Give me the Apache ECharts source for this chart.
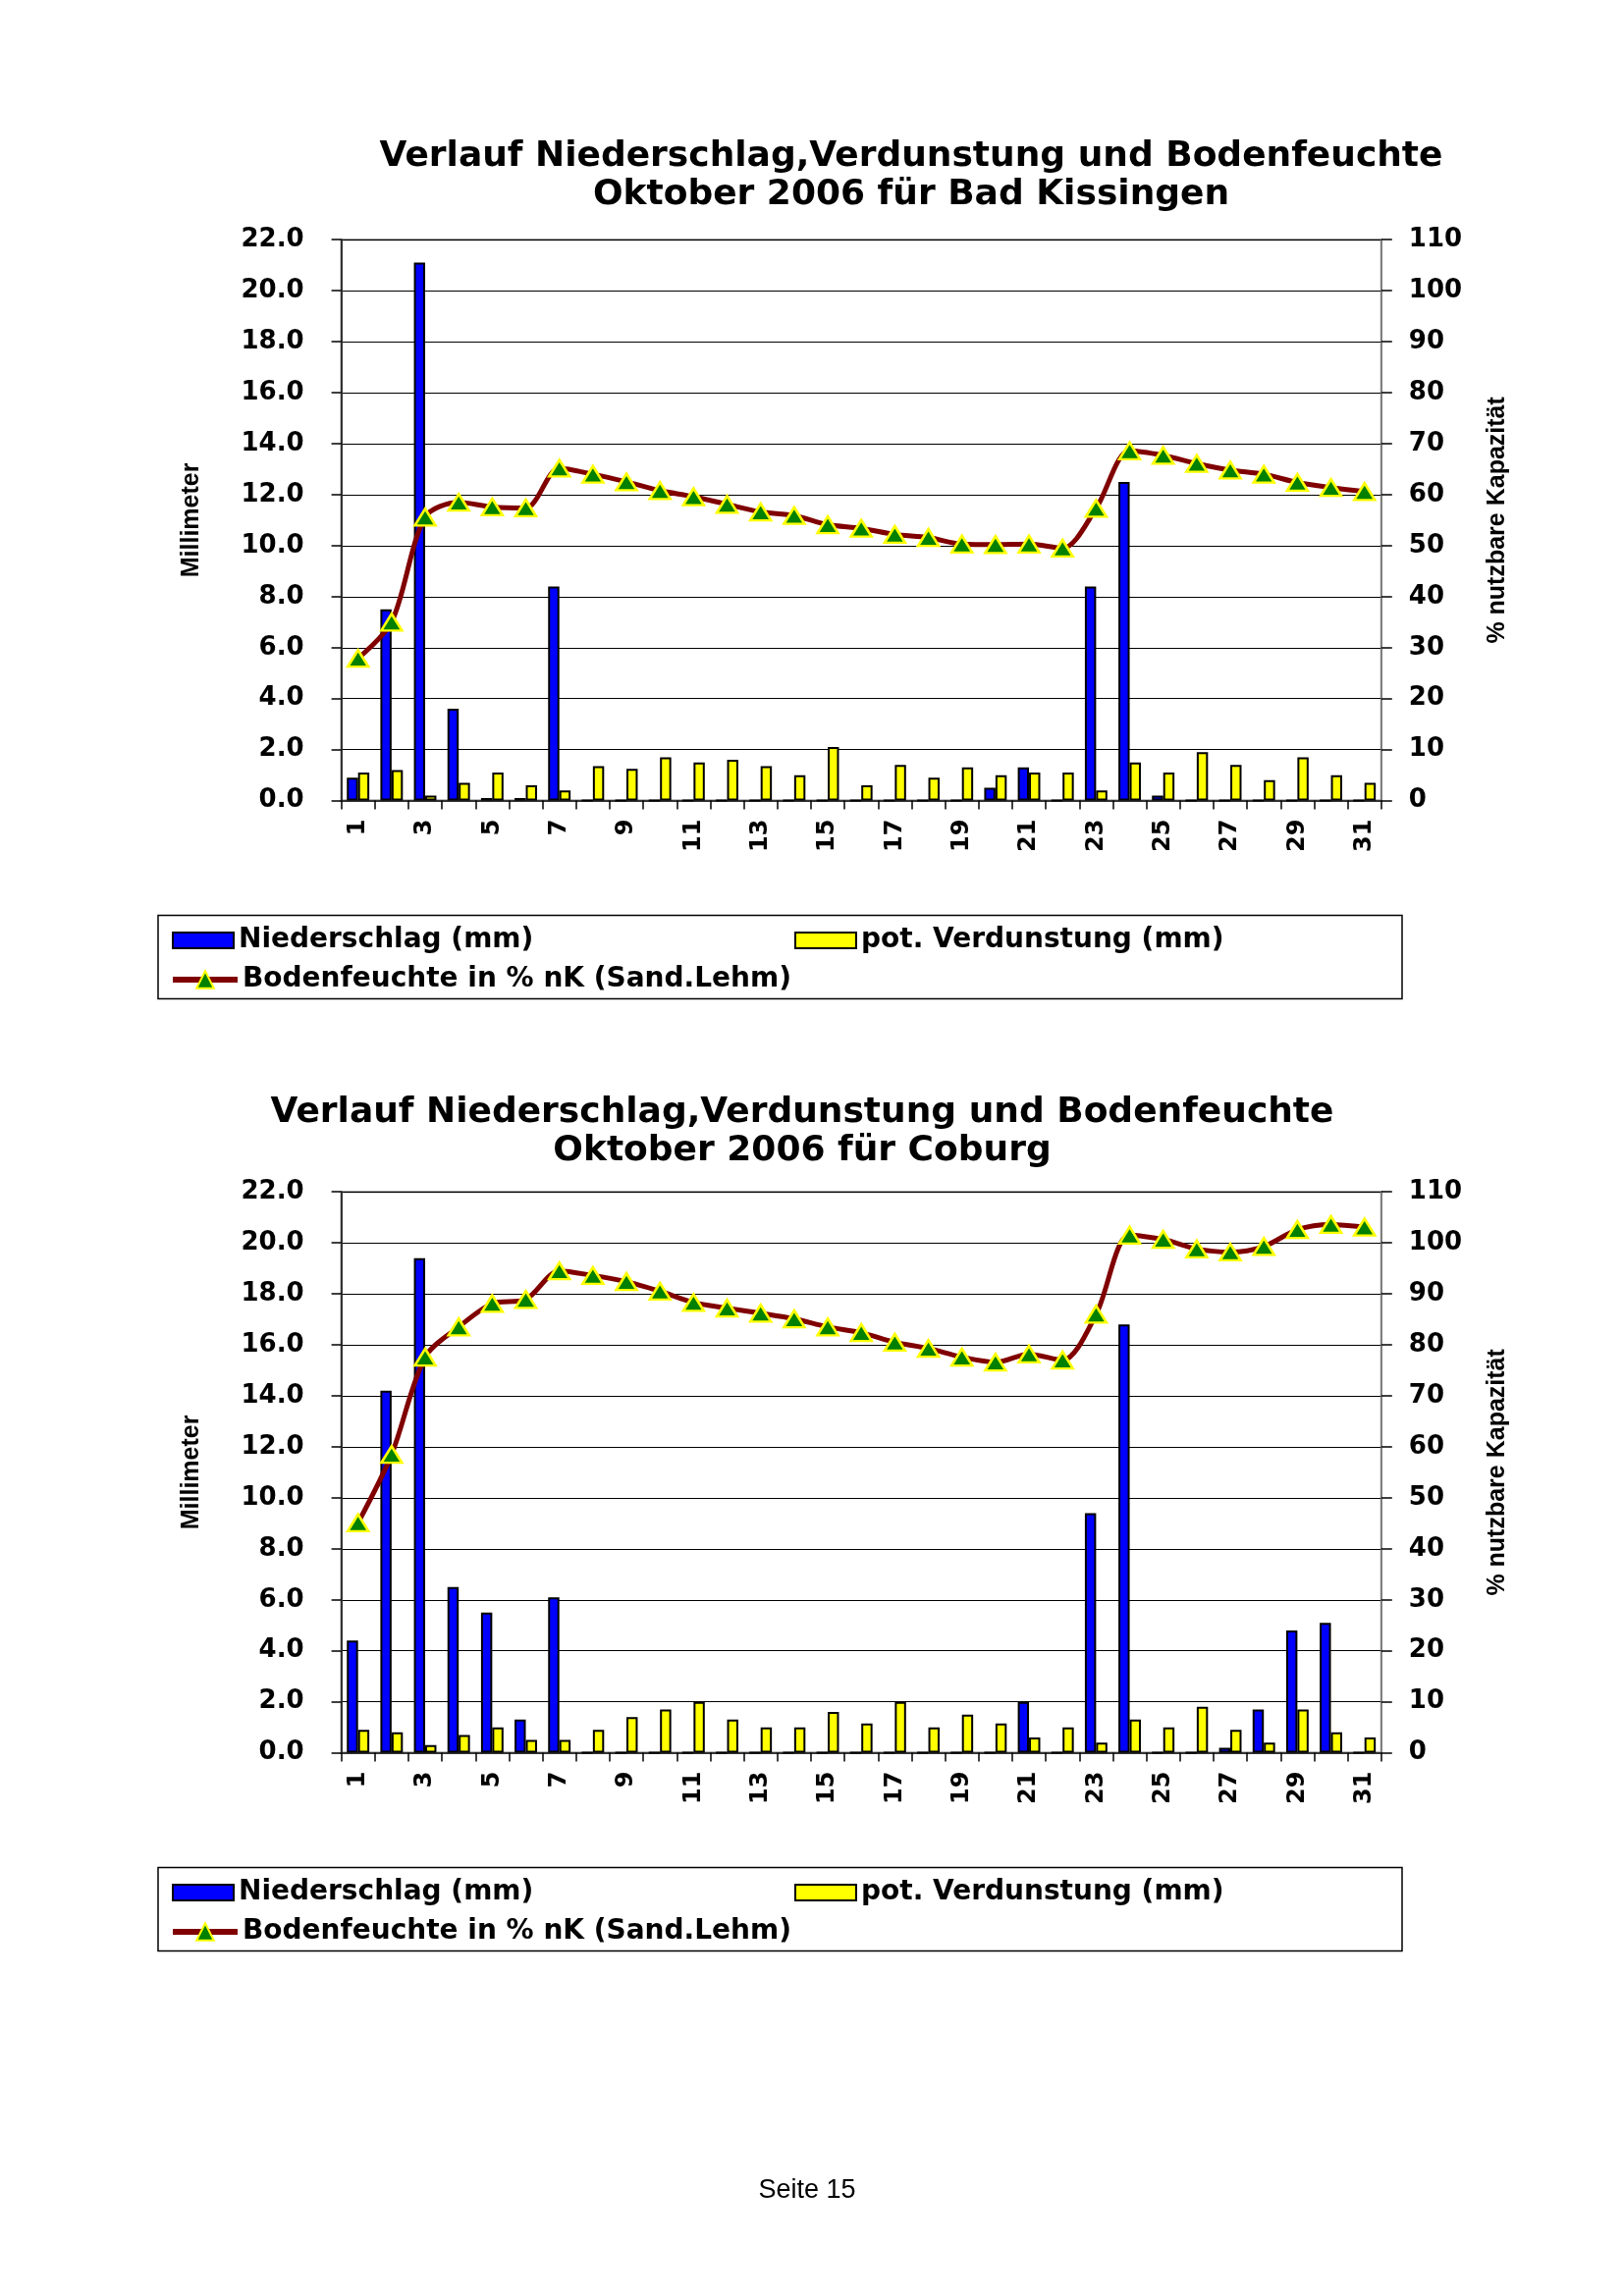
<!DOCTYPE html>
<html><head><meta charset="utf-8">
<script src="https://cdn.jsdelivr.net/npm/echarts@6/dist/echarts.min.js"></script>
<style>html,body{margin:0;padding:0;background:#fff}#c{width:1653px;height:2339px}</style>
</head><body><div id="c"></div>
<script>
// ---- data ----
const days = ['1','2','3','4','5','6','7','8','9','10','11','12','13','14','15','16','17','18','19','20','21','22','23','24','25','26','27','28','29','30','31'];
const leftTicks = { min: 0, max: 22, interval: 2 };
const rightTicks = { min: 0, max: 110, interval: 10 };

const titleKG = 'Verlauf Niederschlag,Verdunstung und Bodenfeuchte\nOktober 2006 für Bad Kissingen';
const titleCO = 'Verlauf Niederschlag,Verdunstung und Bodenfeuchte\nOktober 2006 für Coburg';

const niederschlagKG = [0.9, 7.5, 21.1, 3.6, 0.1, 0.1, 8.4, 0, 0, 0, 0, 0, 0, 0, 0, 0, 0, 0, 0, 0.5, 1.3, 0, 8.4, 12.5, 0.2, 0, 0, 0, 0, 0, 0];
const verdunstungKG = [1.1, 1.2, 0.2, 0.7, 1.1, 0.6, 0.4, 1.35, 1.25, 1.7, 1.5, 1.6, 1.35, 1.0, 2.1, 0.6, 1.4, 0.9, 1.3, 1.0, 1.1, 1.1, 0.4, 1.5, 1.1, 1.9, 1.4, 0.8, 1.7, 1.0, 0.7];
const bodenfeuchteKG = [27.9, 35.0, 55.6, 58.5, 57.6, 57.4, 65.2, 64.0, 62.5, 60.8, 59.6, 58.1, 56.6, 55.9, 54.1, 53.4, 52.2, 51.6, 50.3, 50.2, 50.3, 49.5, 57.3, 68.6, 67.7, 66.1, 64.8, 64.0, 62.4, 61.4, 60.6];

const niederschlagCO = [4.4, 14.2, 19.4, 6.5, 5.5, 1.3, 6.1, 0, 0, 0, 0, 0, 0, 0, 0, 0, 0, 0, 0, 0, 2.0, 0, 9.4, 16.8, 0, 0, 0.2, 1.7, 4.8, 5.1, 0];
const verdunstungCO = [0.9, 0.8, 0.3, 0.7, 1.0, 0.5, 0.5, 0.9, 1.4, 1.7, 2.0, 1.3, 1.0, 1.0, 1.6, 1.15, 2.0, 1.0, 1.5, 1.15, 0.6, 1.0, 0.4, 1.3, 1.0, 1.8, 0.9, 0.4, 1.7, 0.8, 0.6];
const bodenfeuchteCO = [45.1, 58.5, 77.6, 83.5, 88.1, 88.9, 94.5, 93.6, 92.4, 90.5, 88.3, 87.2, 86.2, 85.1, 83.5, 82.4, 80.5, 79.3, 77.6, 76.6, 78.2, 77.0, 86.0, 101.5, 100.7, 98.8, 98.2, 99.3, 102.6, 103.6, 103.1];

const nameN = 'Niederschlag (mm)';
const nameV = 'pot. Verdunstung (mm)';
const nameB = 'Bodenfeuchte in % nK (Sand.Lehm)';
const nameLeftAxis = 'Millimeter';
const nameRightAxis = '% nutzbare Kapazität';
const footer = 'Seite 15';

// ---- layout / style ----
const BOLD = 'DejaVu Sans';
const OFFSET = 970;
const G = { left: 347.6, top: 244.2, width: 1059.2, height: 571.4 };

function xAxisFor(i) {
  return {
    type: 'category', gridIndex: i, data: days, boundaryGap: true,
    axisLine: { lineStyle: { color: '#333', width: 2 } },
    axisTick: { show: true, interval: 0, length: 9, lineStyle: { color: '#000', width: 1.5 } },
    axisLabel: { interval: 1, rotate: 90, margin: 19, fontFamily: BOLD, fontWeight: 'bold', fontSize: 24, color: '#000' },
    splitLine: { show: false }
  };
}
function leftAxisFor(i) {
  return {
    type: 'value', gridIndex: i, position: 'left', min: leftTicks.min, max: leftTicks.max, interval: leftTicks.interval,
    name: nameLeftAxis, nameLocation: 'middle', nameRotate: 90, nameGap: 140,
    nameTextStyle: { fontFamily: 'Liberation Sans', fontWeight: 'bold', fontSize: 25, color: '#000' },
    axisLine: { show: true, lineStyle: { color: '#333', width: 2 } },
    axisTick: { show: true, length: 10, lineStyle: { color: '#000', width: 1.5 } },
    axisLabel: { margin: 38, formatter: v => v.toFixed(1), fontFamily: BOLD, fontWeight: 'bold', fontSize: 26, color: '#000' },
    splitLine: { show: true, lineStyle: { color: '#000', width: 1.2 } }
  };
}
function rightAxisFor(i) {
  return {
    type: 'value', gridIndex: i, position: 'right', min: rightTicks.min, max: rightTicks.max, interval: rightTicks.interval,
    name: nameRightAxis, nameLocation: 'middle', nameRotate: 90, nameGap: 106,
    nameTextStyle: { fontFamily: 'Liberation Sans', fontWeight: 'bold', fontSize: 25, color: '#000' },
    axisLine: { show: true, lineStyle: { color: '#808080', width: 2 } },
    axisTick: { show: true, length: 11, lineStyle: { color: '#000', width: 1.5 } },
    axisLabel: { margin: 28, fontFamily: BOLD, fontWeight: 'bold', fontSize: 26, color: '#000' },
    splitLine: { show: false }
  };
}
function seriesFor(i, n, v, b) {
  const barStyle = (c) => ({ color: c, borderColor: '#000', borderWidth: 2 });
  return [
    { type: 'bar', name: nameN, xAxisIndex: i, yAxisIndex: 2 * i, data: n, itemStyle: barStyle('#0000FF'), barGap: '0%', barCategoryGap: '33%' },
    { type: 'bar', name: nameV, xAxisIndex: i, yAxisIndex: 2 * i, data: v, itemStyle: barStyle('#FFFF00'), barGap: '0%', barCategoryGap: '33%' },
    { type: 'line', name: nameB, xAxisIndex: i, yAxisIndex: 2 * i + 1, data: b, smooth: 0.3, z: 5,
      lineStyle: { color: '#800000', width: 5 },
      symbol: 'triangle', symbolSize: [21, 17],
      itemStyle: { color: '#008000', borderColor: '#FFFF00', borderWidth: 2.5 } }
  ];
}
function legendsFor(i) {
  const dy = i * OFFSET;
  const ts = { fontFamily: BOLD, fontWeight: 'bold', fontSize: 28, color: '#000' };
  return [
    { data: [{ name: nameN, icon: 'rect' }], left: 175, top: 944 + dy, padding: 0, itemWidth: 62, itemHeight: 16, textStyle: ts, selectedMode: false },
    { data: [{ name: nameV, icon: 'rect' }], left: 809, top: 944 + dy, padding: 0, itemWidth: 62, itemHeight: 16, textStyle: ts, selectedMode: false },
    { data: [{ name: nameB, lineStyle: { color: '#800000', width: 6 } }], left: 173, top: 984 + dy, padding: 0, itemWidth: 66, itemHeight: 22, textStyle: ts, selectedMode: false }
  ];
}

const titleStyle = { fontFamily: BOLD, fontWeight: 'bold', fontSize: 36, lineHeight: 39, color: '#000' };

const option = {
  backgroundColor: '#fff',
  animation: false,
  title: [
    { text: titleKG, left: 928, top: 140, padding: 0, textAlign: 'center', textStyle: titleStyle },
    { text: titleCO, left: 817, top: 140 + 974, padding: 0, textAlign: 'center', textStyle: titleStyle },
    { text: footer, left: 822, top: 2218, padding: 0, textAlign: 'center',
      textStyle: { fontFamily: 'Liberation Sans', fontWeight: 'normal', fontSize: 27, color: '#000' } }
  ],
  grid: [
    { left: G.left, top: G.top, width: G.width, height: G.height, show: true, borderColor: '#808080', borderWidth: 2, backgroundColor: '#fff' },
    { left: G.left, top: G.top + OFFSET, width: G.width, height: G.height, show: true, borderColor: '#808080', borderWidth: 2, backgroundColor: '#fff' }
  ],
  xAxis: [xAxisFor(0), xAxisFor(1)],
  yAxis: [leftAxisFor(0), rightAxisFor(0), leftAxisFor(1), rightAxisFor(1)],
  legend: legendsFor(0).concat(legendsFor(1)),
  graphic: [
    { type: 'rect', shape: { x: 161, y: 932.5, width: 1267, height: 85 }, style: { fill: 'none', stroke: '#000', lineWidth: 1.5 }, silent: true },
    { type: 'rect', shape: { x: 161, y: 932.5 + OFFSET, width: 1267, height: 85 }, style: { fill: 'none', stroke: '#000', lineWidth: 1.5 }, silent: true }
  ],
  series: seriesFor(0, niederschlagKG, verdunstungKG, bodenfeuchteKG).concat(seriesFor(1, niederschlagCO, verdunstungCO, bodenfeuchteCO))
};

const chart = echarts.init(document.getElementById('c'));
chart.setOption(option);
</script>
</body></html>
